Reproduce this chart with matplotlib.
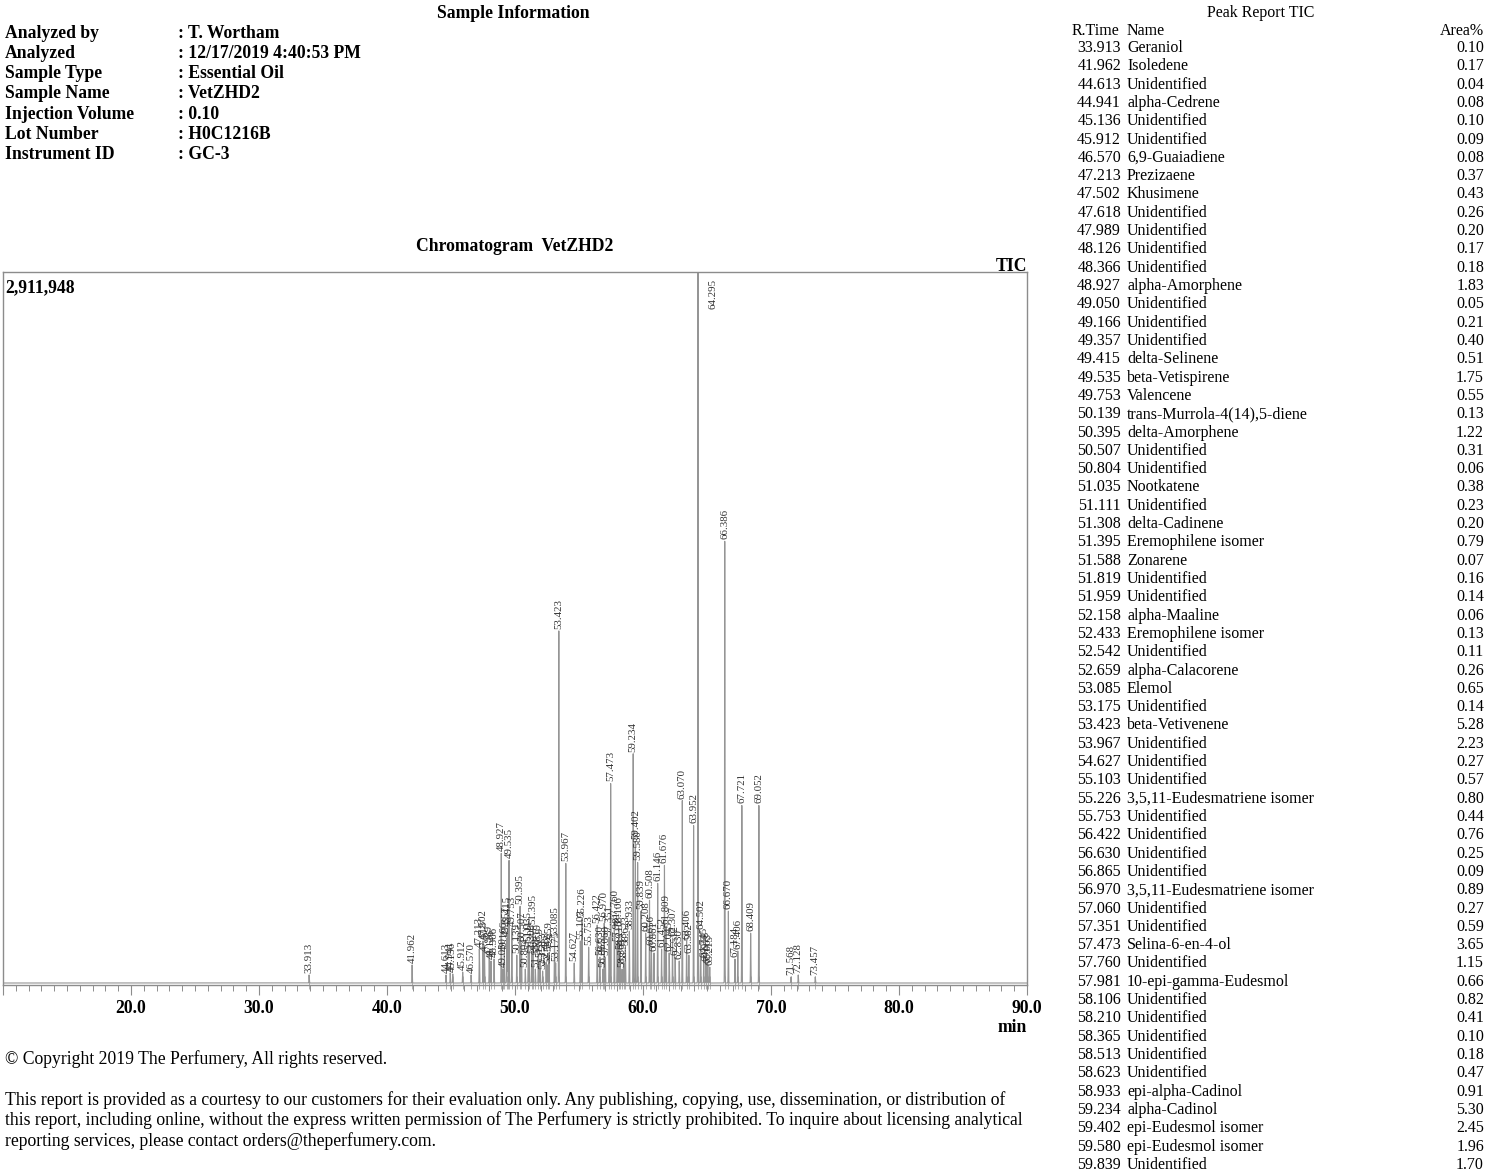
import numpy as np
import matplotlib
matplotlib.use("Agg")
import matplotlib.pyplot as plt
from matplotlib import transforms

# ---------------- data ----------------
info_labels = ["Analyzed by", "Analyzed", "Sample Type", "Sample Name",
               "Injection Volume", "Lot Number", "Instrument ID"]
info_values = [": T. Wortham", ": 12/17/2019 4:40:53 PM", ": Essential Oil",
               ": VetZHD2", ": 0.10", ": H0C1216B", ": GC-3"]

y_max = 2911948

peak_rt = [33.913, 41.962, 44.613, 44.941, 45.136, 45.912, 46.570, 47.213, 47.502,
           47.618, 47.989, 48.126, 48.366, 48.927, 49.050, 49.166, 49.357, 49.415,
           49.535, 49.753, 50.139, 50.395, 50.507, 50.804, 51.035, 51.111, 51.308,
           51.395, 51.588, 51.819, 51.959, 52.158, 52.433, 52.542, 52.659, 53.085,
           53.175, 53.423, 53.967, 54.627, 55.103, 55.226, 55.753, 56.422, 56.630,
           56.865, 56.970, 57.060, 57.351, 57.473, 57.760, 57.981, 58.106, 58.210,
           58.365, 58.513, 58.623, 58.933, 59.234, 59.402, 59.580, 59.839, 60.208,
           60.508, 60.656, 60.861, 61.146, 61.452, 61.676, 61.809, 62.045, 62.307,
           62.512, 62.830, 63.070, 63.406, 63.582, 63.952, 64.295, 64.502, 64.745,
           64.918, 65.063, 65.215, 66.386, 66.670, 67.184, 67.406, 67.721, 68.409,
           69.052, 71.568, 72.128, 73.457]
peak_height = [33000, 74000, 33000, 41000, 37000, 45000, 33000, 139000, 172000,
               123000, 106000, 90000, 98000, 531000, 57000, 123000, 184000, 225000,
               502000, 225000, 114000, 314000, 163000, 57000, 163000, 131000, 114000,
               233000, 57000, 114000, 98000, 49000, 82000, 74000, 123000, 184000,
               82000, 1442000, 490000, 82000, 172000, 261000, 147000, 237000, 106000,
               57000, 245000, 106000, 188000, 817000, 253000, 163000, 225000, 131000,
               57000, 82000, 147000, 212000, 939000, 580000, 494000, 294000, 204000,
               339000, 147000, 123000, 408000, 139000, 482000, 233000, 123000, 184000,
               106000, 90000, 747000, 172000, 114000, 645000, 2911948, 212000, 98000,
               82000, 74000, 65000, 1809000, 294000, 98000, 131000, 727000, 204000,
               727000, 25000, 33000, 25000]

table_rt = ["33.913", "41.962", "44.613", "44.941", "45.136", "45.912", "46.570",
            "47.213", "47.502", "47.618", "47.989", "48.126", "48.366", "48.927",
            "49.050", "49.166", "49.357", "49.415", "49.535", "49.753", "50.139",
            "50.395", "50.507", "50.804", "51.035", "51.111", "51.308", "51.395",
            "51.588", "51.819", "51.959", "52.158", "52.433", "52.542", "52.659",
            "53.085", "53.175", "53.423", "53.967", "54.627", "55.103", "55.226",
            "55.753", "56.422", "56.630", "56.865", "56.970", "57.060", "57.351",
            "57.473", "57.760", "57.981", "58.106", "58.210", "58.365", "58.513",
            "58.623", "58.933", "59.234", "59.402", "59.580", "59.839"]
table_name = ["Geraniol", "Isoledene", "Unidentified", "alpha-Cedrene", "Unidentified",
              "Unidentified", "6,9-Guaiadiene", "Prezizaene", "Khusimene", "Unidentified",
              "Unidentified", "Unidentified", "Unidentified", "alpha-Amorphene",
              "Unidentified", "Unidentified", "Unidentified", "delta-Selinene",
              "beta-Vetispirene", "Valencene", "trans-Murrola-4(14),5-diene",
              "delta-Amorphene", "Unidentified", "Unidentified", "Nootkatene",
              "Unidentified", "delta-Cadinene", "Eremophilene isomer", "Zonarene",
              "Unidentified", "Unidentified", "alpha-Maaline", "Eremophilene isomer",
              "Unidentified", "alpha-Calacorene", "Elemol", "Unidentified",
              "beta-Vetivenene", "Unidentified", "Unidentified", "Unidentified",
              "3,5,11-Eudesmatriene isomer", "Unidentified", "Unidentified",
              "Unidentified", "Unidentified", "3,5,11-Eudesmatriene isomer",
              "Unidentified", "Unidentified", "Selina-6-en-4-ol", "Unidentified",
              "10-epi-gamma-Eudesmol", "Unidentified", "Unidentified", "Unidentified",
              "Unidentified", "Unidentified", "epi-alpha-Cadinol", "alpha-Cadinol",
              "epi-Eudesmol isomer", "epi-Eudesmol isomer", "Unidentified"]
table_area = ["0.10", "0.17", "0.04", "0.08", "0.10", "0.09", "0.08", "0.37", "0.43",
              "0.26", "0.20", "0.17", "0.18", "1.83", "0.05", "0.21", "0.40", "0.51",
              "1.75", "0.55", "0.13", "1.22", "0.31", "0.06", "0.38", "0.23", "0.20",
              "0.79", "0.07", "0.16", "0.14", "0.06", "0.13", "0.11", "0.26", "0.65",
              "0.14", "5.28", "2.23", "0.27", "0.57", "0.80", "0.44", "0.76", "0.25",
              "0.09", "0.89", "0.27", "0.59", "3.65", "1.15", "0.66", "0.82", "0.41",
              "0.10", "0.18", "0.47", "0.91", "5.30", "2.45", "1.96", "1.70"]

x_ticks = [10, 20, 30, 40, 50, 60, 70, 80, 90]
x_ticklabels = ["", "20.0", "30.0", "40.0", "50.0", "60.0", "70.0", "80.0", "90.0"]

copyright_text = "\u00a9 Copyright 2019 The Perfumery, All rights reserved."
disclaimer_lines = [
    "This report is provided as a courtesy to our customers for their evaluation only. Any publishing, copying, use, dissemination, or distribution of",
    "this report, including online, without the express written permission of The Perfumery is strictly prohibited. To inquire about licensing analytical",
    "reporting services, please contact orders@theperfumery.com.",
]

# ---------------- figure ----------------
W, H = 1500, 1174
SERIF = "Liberation Serif"
plt.rcParams["font.family"] = [SERIF, "DejaVu Serif"]
fig = plt.figure(figsize=(W / 100, H / 100), dpi=100)
fig.patch.set_facecolor("white")

DY = 2  # vertical nudge for va='center' texts


def ftext(x, y, s, **kw):
    kw.setdefault("va", "center")
    fig.text(x / W, 1 - (y + DY) / H, s, **kw)


BFS = 12.7
# sample information
ftext(513, 11, "Sample Information", ha="center", fontsize=BFS, fontweight="bold")
for i, (lab, val) in enumerate(zip(info_labels, info_values)):
    y = 31 + i * 20.3
    ftext(5, y, lab, ha="left", fontsize=BFS, fontweight="bold")
    ftext(178, y, val, ha="left", fontsize=BFS, fontweight="bold")

ftext(515, 244, "Chromatogram  VetZHD2", ha="center", fontsize=BFS, fontweight="bold")
ftext(1027, 264, "TIC", ha="right", fontsize=BFS, fontweight="bold")

# chromatogram axes
ax_left, ax_right, ax_top, ax_bottom = 3, 1027, 272, 985
ax = fig.add_axes([ax_left / W, 1 - ax_bottom / H,
                   (ax_right - ax_left) / W, (ax_bottom - ax_top) / H])
frame_col = "#8c8c8c"
for sp in ax.spines.values():
    sp.set_color(frame_col)
    sp.set_linewidth(1.0)

ymin = -2 * y_max / 713.0
ax.set_xlim(10, 90)
ax.set_ylim(ymin, y_max)

# trace built from the peak list (narrow gaussian per peak)
grid = np.union1d(np.arange(10, 90.0005, 0.002), np.array(peak_rt))
trace = np.zeros_like(grid)
sig = 0.014
for rt, h in zip(peak_rt, peak_height):
    trace += h * np.exp(-0.5 * ((grid - rt) / sig) ** 2)
trace = np.minimum(trace, y_max)
ax.plot(grid, trace, color="#959595", lw=0.8, zorder=2)

# integration markers around baseline
btrans = transforms.blended_transform_factory(ax.transData, ax.transAxes)
ax.vlines(peak_rt, -0.006, 0.012, transform=btrans, color="#a5a5a5", lw=0.6,
          clip_on=False, zorder=1)

# peak labels
LFS = 7.8
for rt, h in zip(peak_rt, peak_height):
    lab = f"{rt:.3f}"
    if h >= 0.8 * y_max:
        ax.annotate(lab, xy=(rt, y_max), xytext=(11, -5), textcoords="offset points",
                    rotation=90, ha="center", va="top", fontsize=LFS, color="#333333")
    else:
        ax.annotate(lab, xy=(rt, h), xytext=(0, 1.5), textcoords="offset points",
                    rotation=90, ha="center", va="bottom", fontsize=LFS, color="#333333")

ax.text(2 / (ax_right - ax_left), 1 - 16 / (ax_bottom - ax_top), "2,911,948",
        transform=ax.transAxes, ha="left", va="center", fontsize=BFS, fontweight="bold")

ax.set_yticks([])
ax.set_xticks(x_ticks)
ax.set_xticklabels(x_ticklabels, fontweight="bold", fontsize=BFS)
ax.set_xticks(np.arange(10, 91, 1), minor=True)
ax.tick_params(axis="x", which="major", direction="out", length=7.2, width=0.8,
               color=frame_col, pad=3.5)
ax.tick_params(axis="x", which="minor", direction="out", length=4.3, width=0.7,
               color=frame_col)

ftext(1027, 1026, "min", ha="right", fontsize=BFS, fontweight="bold")

# footer
ftext(5, 1057, copyright_text, ha="left", fontsize=12.7)
for i, line in enumerate(disclaimer_lines):
    ftext(5, 1098 + i * 20.5, line, ha="left", fontsize=12.7)

# peak report table
tfs = 11.5
ftext(1261, 11, "Peak Report TIC", ha="center", fontsize=tfs)
ftext(1072, 29, "R.Time", ha="left", fontsize=tfs)
ftext(1127, 29, "Name", ha="left", fontsize=tfs)
ftext(1484, 29, "Area%", ha="right", fontsize=tfs)
for i, (rt, nm, ar) in enumerate(zip(table_rt, table_name, table_area)):
    y = 46 + i * 18.31
    ftext(1121, y, rt, ha="right", fontsize=tfs)
    ftext(1127, y, nm, ha="left", fontsize=tfs)
    ftext(1484, y, ar, ha="right", fontsize=tfs)

fig.savefig("out.png", dpi=100, facecolor="white")
